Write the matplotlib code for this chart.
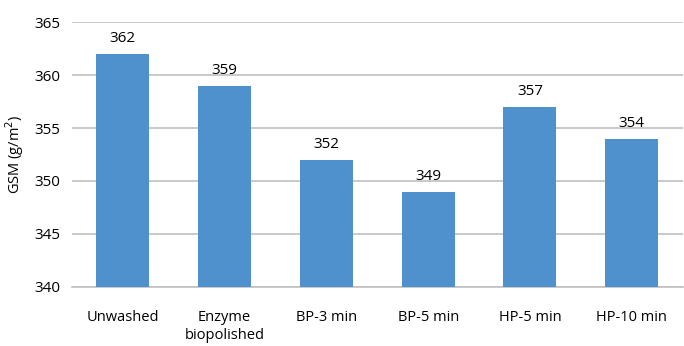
import matplotlib
matplotlib.use("Agg")
import matplotlib.pyplot as plt

categories = ["Unwashed", "Enzyme\nbiopolished", "BP-3 min", "BP-5 min", "HP-5 min", "HP-10 min"]
values = [362, 359, 352, 349, 357, 354]
yticks = [340, 345, 350, 355, 360, 365]

plt.rcParams['font.family'] = ['Open Sans', 'DejaVu Sans']
fig = plt.figure(figsize=(6.84, 3.46), dpi=100)
ax = fig.add_axes([0.105, 0.171, 0.893, 0.765])

x = range(len(categories))
ax.bar(x, [v - 340 for v in values], bottom=340, width=0.52, color="#4F91CD", zorder=3)
for xi, v in zip(x, values):
    ax.text(xi, v + 0.75, str(v), ha="center", va="bottom", fontsize=11, color="#000000")

ax.set_xlim(-0.5, len(categories) - 0.5)
ax.set_ylim(340, 365)
ax.set_yticks(yticks)
ax.set_yticklabels([str(t) for t in yticks], fontsize=11)
ax.set_xticks(list(x))
ax.set_xticklabels(categories, fontsize=10.5, linespacing=1.25)
ax.yaxis.grid(True, color="#C0C0C0", linewidth=1.2, zorder=0)
ax.tick_params(axis="y", length=0, pad=8)
ax.tick_params(axis="x", length=0, pad=17)
for s in ["top", "right", "left"]:
    ax.spines[s].set_visible(False)
ax.spines["bottom"].set_color("#C0C0C0")
ax.spines["bottom"].set_linewidth(1.2)
ax.set_ylabel("GSM (g/m$^2$)", fontsize=10.5, labelpad=6)

fig.savefig("out.png", dpi=100)
